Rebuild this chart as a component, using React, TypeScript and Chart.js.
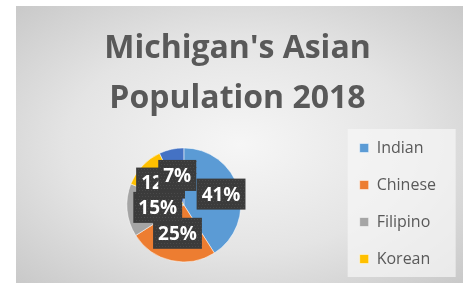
import React, { useEffect, useRef } from "react";
import { Chart, registerables } from "chart.js";

Chart.register(...registerables);

const TITLE_LINES = ["Michigan's Asian", "Population 2018"];
const CATEGORIES = ["Indian", "Chinese", "Filipino", "Korean", "Other"];
const VALUES = [41, 25, 15, 12, 7];
const COLORS = ["#5B9BD5", "#ED7D31", "#A5A5A5", "#FFC000", "#4472C4"];
const LEGEND_COUNT = 4;
// radial position of each data label as a fraction of the pie radius
const LABEL_RADIUS = [0.68, 0.51, 0.46, 0.56, 0.53];

const legendBoxPlugin = {
  id: "legendBox",
  beforeDraw(chart: any) {
    const lg = chart.legend;
    if (!lg || !lg.legendHitBoxes || !lg.legendHitBoxes.length) return;
    const hb = lg.legendHitBoxes;
    const first = hb[0];
    const last = hb[hb.length - 1];
    const left = first.left - 12;
    const top = first.top + first.height / 2 - 19;
    const bottom = last.top + last.height / 2 + 18;
    const ctx = chart.ctx;
    ctx.save();
    ctx.fillStyle = "rgba(246,246,246,0.7)";
    ctx.fillRect(left, top, 108, bottom - top);
    ctx.restore();
  },
};

const labelPlugin = {
  id: "boxLabels",
  afterDatasetsDraw(chart: any) {
    const meta = chart.getDatasetMeta(0);
    const data = chart.data.datasets[0].data as number[];
    const total = data.reduce((a, b) => a + b, 0);
    const ctx = chart.ctx;
    ctx.save();
    ctx.font = "bold 19px 'Open Sans'";
    ctx.textAlign = "center";
    ctx.textBaseline = "middle";
    meta.data.forEach((arc: any, i: number) => {
      const p = arc.getProps(["x", "y", "startAngle", "endAngle", "outerRadius"], true);
      const mid = (p.startAngle + p.endAngle) / 2;
      const r = p.outerRadius * LABEL_RADIUS[i];
      const x = p.x + Math.cos(mid) * r;
      const y = p.y + Math.sin(mid) * r;
      const text = Math.round((data[i] / total) * 100) + "%";
      const w = ctx.measureText(text).width + 10;
      const h = 31;
      ctx.fillStyle = "#3b3b3b";
      ctx.fillRect(x - w / 2, y - h / 2, w, h);
      ctx.fillStyle = "rgba(90,90,90,0.5)";
      for (let yy = Math.ceil(y - h / 2) + 1; yy < y + h / 2; yy += 3) {
        for (let xx = Math.ceil(x - w / 2) + ((yy % 2) ? 1 : 2); xx < x + w / 2; xx += 3) {
          ctx.fillRect(xx, yy, 1, 1);
        }
      }
      ctx.fillStyle = "#ffffff";
      ctx.fillText(text, x, y + 1);
    });
    ctx.restore();
  },
};

export default function App() {
  const ref = useRef<HTMLCanvasElement>(null);
  useEffect(() => {
    if (!ref.current) return;
    const chart = new Chart(ref.current, {
      type: "pie",
      data: {
        labels: CATEGORIES,
        datasets: [
          {
            data: VALUES,
            backgroundColor: COLORS,
            borderColor: "#ffffff",
            borderWidth: 0.5,
            radius: 57,
          } as any,
        ],
      },
      options: {
        responsive: false,
        animation: false,
        layout: { padding: { left: 13, right: 17, top: 0, bottom: 0 } },
        plugins: {
          title: {
            display: true,
            text: TITLE_LINES,
            color: "#595959",
            font: { family: "'Open Sans'", size: 32, weight: "bold", lineHeight: 1.56 },
            padding: { top: 18, bottom: -2 },
          },
          legend: {
            position: "right",
            fullSize: true,
            align: "end",
            labels: {
              boxWidth: 9,
              boxHeight: 9,
              padding: 21,
              color: "#595959",
              font: { family: "'Open Sans'", size: 16 },
              filter: (item: any) => item.index < LEGEND_COUNT,
            },
          },
          tooltip: { enabled: false },
        },
      },
      plugins: [legendBoxPlugin, labelPlugin],
    });
    return () => chart.destroy();
  }, []);
  return (
    <div
      style={{
        position: "absolute",
        left: 16,
        top: 6,
        width: 447,
        height: 277,
        background: "radial-gradient(ellipse at 50% 50%, #f6f6f6 0%, #e4e4e4 55%, #c9c9c9 100%)",
      }}
    >
      <canvas ref={ref} width={447} height={282} style={{ display: "block" }} />
    </div>
  );
}
